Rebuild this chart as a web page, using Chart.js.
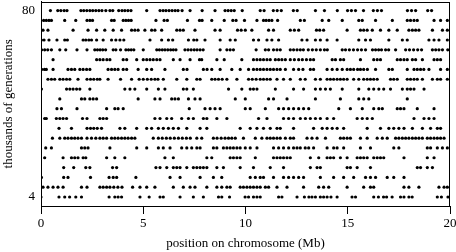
<!DOCTYPE html>
<html>
<head>
<meta charset="utf-8">
<script src="https://cdn.jsdelivr.net/npm/chart.js@4"></script>
<style>
  body { margin: 0; background: #fff; }
  #chrom { display: block; }
</style>
</head>
<body>
<canvas id="chrom" width="456" height="252"></canvas>
<script>
/* positions (Mb) of the dots in each generation row */
const generations = [80, 76, 72, 68, 64, 60, 56, 52, 48, 44, 40, 36, 32, 28, 24, 20, 16, 12, 8, 4];

const pos80 = [0.46, 0.82, 0.97, 1.13, 1.27, 1.95, 2.09, 2.24, 2.39, 2.53, 2.68, 2.83, 2.98, 3.17, 3.37, 3.51, 3.80, 3.96, 4.10, 4.25, 4.40, 5.17, 5.82, 5.97, 6.11, 6.26, 6.41, 6.56, 6.70, 6.90, 7.29, 7.88, 8.51, 9.00, 9.15, 9.30, 9.45, 9.84, 10.72, 10.91, 11.36, 11.55, 11.75, 12.34, 12.53, 13.42, 13.86, 14.49, 14.99, 15.18, 15.38, 15.77, 16.25, 16.45, 16.65, 17.92, 18.12, 18.32, 18.91, 19.10];
const pos76 = [0.13, 0.26, 0.39, 0.51, 1.16, 1.70, 2.25, 2.39, 2.52, 3.45, 3.58, 4.02, 4.15, 4.28, 4.41, 5.62, 6.02, 6.18, 7.16, 7.75, 7.88, 8.35, 8.96, 9.38, 9.54, 9.95, 10.56, 10.88, 11.01, 11.15, 11.29, 11.57, 12.68, 12.88, 13.75, 14.07, 14.73, 15.54, 15.71, 16.36, 17.18, 17.91, 18.07, 18.24, 18.40, 19.22, 19.54, 19.87];
const pos72 = [0.10, 0.34, 1.57, 2.30, 2.72, 3.12, 3.53, 3.94, 4.43, 4.59, 4.75, 5.08, 5.41, 5.57, 5.90, 6.64, 6.80, 6.96, 7.53, 8.51, 8.76, 9.61, 9.79, 9.99, 10.31, 11.13, 11.37, 12.19, 12.39, 12.60, 13.47, 13.63, 13.82, 14.97, 15.62, 15.78, 15.95, 16.20, 16.60, 17.01, 17.42, 17.99, 18.16, 18.32, 18.48, 19.14, 19.63, 19.87];
const pos68 = [0.02, 0.15, 0.39, 0.78, 1.16, 1.29, 2.06, 2.19, 2.34, 2.47, 2.72, 3.04, 3.45, 3.66, 3.86, 4.05, 5.33, 5.90, 6.23, 6.44, 7.21, 7.47, 7.62, 8.02, 8.76, 9.25, 9.50, 10.39, 10.64, 11.05, 11.29, 11.62, 12.76, 13.01, 13.42, 13.66, 13.99, 14.48, 15.54, 15.87, 16.11, 17.01, 17.67, 17.91, 18.97, 19.22, 19.46, 19.87];
const pos64 = [0.03, 0.18, 0.33, 0.51, 0.92, 1.21, 1.76, 2.25, 2.63, 2.76, 2.89, 3.02, 3.16, 3.53, 3.66, 3.89, 4.15, 4.28, 4.41, 4.54, 5.00, 5.66, 5.79, 5.93, 6.06, 6.20, 6.34, 6.47, 6.60, 7.04, 7.19, 7.34, 7.49, 7.63, 7.78, 7.93, 8.76, 9.09, 9.25, 9.41, 10.52, 10.97, 11.13, 11.37, 11.54, 11.70, 12.19, 12.35, 12.52, 12.68, 12.83, 13.07, 13.27, 13.46, 13.66, 13.86, 14.00, 14.73, 14.89, 15.08, 15.28, 15.48, 15.67, 15.87, 16.21, 16.36, 16.51, 16.65, 16.85, 17.00, 17.34, 17.83, 18.02, 18.22, 18.42, 18.61, 19.14, 19.30, 19.46, 19.63, 19.89];
const pos60 = [0.59, 2.72, 2.88, 3.04, 3.22, 3.37, 4.02, 4.19, 4.68, 5.00, 5.17, 5.33, 5.49, 5.66, 5.82, 6.47, 6.80, 7.29, 7.75, 7.86, 8.60, 8.96, 9.82, 10.39, 10.56, 10.72, 10.88, 11.05, 11.21, 11.46, 11.62, 11.78, 11.95, 12.19, 12.39, 12.60, 12.78, 12.98, 13.17, 13.33, 14.24, 14.40, 14.64, 14.80, 15.62, 16.27, 16.44, 16.60, 17.42, 17.58, 17.75, 17.91, 18.16, 18.32, 18.65, 19.22, 19.38, 19.54];
const pos56 = [0.03, 0.17, 0.26, 0.59, 1.32, 1.49, 1.65, 1.90, 2.06, 2.23, 2.39, 3.28, 3.45, 3.61, 3.77, 4.02, 4.19, 4.75, 5.17, 5.41, 6.06, 6.96, 7.14, 7.94, 8.12, 8.35, 8.76, 9.33, 9.74, 10.15, 10.39, 10.56, 10.72, 10.88, 11.05, 11.21, 11.37, 11.54, 11.70, 11.95, 12.35, 12.60, 12.81, 13.17, 13.33, 13.99, 14.24, 14.48, 14.73, 14.97, 15.13, 15.29, 15.48, 15.62, 15.78, 15.96, 16.36, 17.01, 17.18, 17.91, 18.24, 18.40, 18.56, 18.72, 18.97, 19.54, 19.87];
const pos52 = [0.34, 0.51, 0.67, 0.92, 1.08, 1.25, 1.41, 1.81, 2.25, 2.42, 2.58, 2.75, 2.88, 3.28, 3.89, 4.43, 4.80, 5.00, 5.20, 5.39, 5.57, 5.72, 5.98, 6.64, 7.13, 7.62, 7.78, 8.35, 8.51, 8.68, 8.86, 9.09, 9.58, 10.15, 10.33, 10.52, 10.72, 10.88, 11.05, 11.21, 11.54, 11.86, 12.19, 12.68, 12.92, 13.42, 13.66, 13.99, 14.15, 14.31, 14.48, 14.64, 14.80, 14.97, 15.29, 15.54, 15.78, 15.95, 16.11, 16.27, 16.44, 17.09, 17.25, 17.42, 17.91, 18.07, 18.24, 18.40, 18.65, 19.14, 19.38, 19.54, 19.87];
const pos48 = [0.02, 1.25, 1.41, 1.57, 1.74, 1.90, 2.39, 4.10, 4.35, 4.59, 5.17, 5.74, 6.06, 6.96, 7.13, 7.45, 9.17, 9.82, 10.23, 10.39, 10.56, 11.46, 12.35, 12.84, 13.42, 13.66, 13.91, 14.15, 14.73, 15.54, 16.03, 16.27, 16.52, 16.76, 17.09, 17.67, 17.91, 18.07, 18.24, 18.73];
const pos44 = [0.92, 1.98, 2.14, 2.39, 2.55, 2.72, 4.75, 5.57, 5.82, 6.39, 6.55, 6.72, 7.21, 7.53, 7.78, 9.50, 9.99, 11.13, 11.37, 12.03, 13.42, 14.64, 15.54, 15.78, 16.03, 17.91];
const pos40 = [0.78, 1.00, 1.76, 3.21, 3.61, 3.77, 4.02, 7.25, 8.02, 8.27, 8.51, 8.76, 9.99, 10.23, 10.97, 11.62, 11.86, 12.11, 12.35, 12.60, 12.84, 13.09, 14.56, 15.13, 15.71, 16.27, 16.52, 16.69, 17.42, 17.58, 17.75, 18.40, 19.22];
const pos36 = [0.18, 0.26, 0.75, 0.92, 1.08, 1.25, 2.03, 2.25, 2.88, 3.04, 3.21, 5.57, 5.82, 6.15, 6.39, 6.88, 7.21, 7.45, 7.94, 8.11, 8.60, 9.09, 10.64, 11.05, 11.86, 12.11, 12.35, 12.68, 12.93, 13.17, 13.42, 13.66, 13.99, 14.31, 15.46, 15.71, 15.95, 16.20, 18.24, 18.73, 18.97, 19.22];
const pos32 = [0.88, 1.49, 2.25, 2.42, 2.58, 2.75, 2.96, 3.86, 4.10, 4.68, 5.17, 5.41, 5.74, 5.98, 6.23, 6.47, 6.72, 7.13, 7.78, 8.11, 9.74, 10.23, 10.56, 10.88, 11.21, 11.54, 11.70, 12.35, 13.33, 13.75, 13.99, 14.24, 14.48, 14.80, 15.95, 16.60, 17.01, 17.25, 17.50, 17.75, 18.16, 18.65, 19.05, 19.38, 19.54];
const pos28 = [0.56, 0.92, 1.16, 1.32, 1.49, 1.65, 1.81, 1.98, 2.25, 2.47, 2.68, 2.88, 3.04, 3.21, 3.45, 3.61, 3.77, 3.94, 4.10, 4.26, 4.43, 4.59, 5.49, 5.74, 5.93, 6.13, 6.32, 6.52, 6.72, 6.91, 7.11, 7.30, 7.62, 7.86, 8.43, 8.61, 8.81, 9.00, 9.17, 9.33, 9.50, 9.90, 10.48, 10.80, 11.05, 11.21, 11.37, 11.54, 11.70, 11.95, 12.19, 12.35, 13.01, 13.25, 13.50, 13.91, 14.64, 14.80, 14.97, 15.13, 15.62, 15.95, 16.44, 16.69, 16.93, 17.34, 17.50, 17.67, 17.83, 17.99, 18.16, 18.32, 18.48, 18.65, 18.89, 19.05, 19.22, 19.38, 19.54, 19.71];
const pos24 = [0.23, 0.51, 1.98, 2.14, 2.30, 3.37, 4.68, 5.17, 5.74, 5.98, 6.31, 6.88, 7.13, 7.37, 7.62, 7.78, 8.43, 8.60, 8.92, 9.09, 9.25, 9.41, 9.58, 9.74, 9.99, 10.23, 10.56, 11.37, 11.62, 11.86, 12.11, 12.35, 12.52, 12.68, 12.92, 13.09, 13.33, 13.99, 14.31, 14.48, 14.80, 15.62, 16.11, 17.25, 17.50, 18.89, 19.05, 19.38, 19.63, 19.87];
const pos20 = [0.18, 1.08, 1.49, 1.65, 1.81, 2.06, 2.19, 3.21, 3.61, 4.10, 6.06, 6.47, 8.11, 8.35, 9.25, 9.41, 9.58, 9.74, 10.48, 11.37, 11.54, 11.70, 11.86, 12.03, 12.19, 13.17, 13.58, 13.99, 14.15, 14.31, 14.64, 14.97, 15.46, 15.62, 15.78, 15.95, 16.27, 16.44, 16.60, 16.76, 17.75, 18.89, 19.22];
const pos16 = [1.11, 1.60, 2.19, 2.39, 3.50, 3.70, 5.62, 5.82, 6.15, 6.47, 6.64, 6.80, 7.13, 7.45, 7.62, 7.78, 7.94, 8.11, 8.60, 8.92, 9.74, 10.39, 11.21, 11.86, 13.17, 13.50, 13.66, 14.97, 15.13, 15.46, 16.11, 18.40, 18.56, 18.89, 19.14];
const pos12 = [0.02, 1.11, 1.32, 2.42, 3.33, 3.53, 3.70, 4.64, 6.31, 6.80, 7.78, 8.43, 8.84, 10.23, 10.48, 10.72, 10.88, 11.37, 11.86, 12.11, 12.35, 12.60, 12.84, 13.66, 14.31, 14.80, 15.29, 15.87, 16.11, 16.36, 16.93, 17.25, 17.75];
const pos8 = [0.10, 0.34, 0.59, 0.83, 1.08, 1.98, 2.25, 2.88, 3.04, 3.21, 3.37, 3.56, 3.76, 3.96, 4.48, 4.84, 5.17, 5.57, 6.47, 6.96, 7.29, 7.53, 8.11, 8.60, 8.84, 9.09, 9.25, 9.74, 9.90, 10.07, 10.23, 10.39, 10.56, 10.72, 10.97, 11.13, 11.54, 12.03, 12.84, 13.58, 13.82, 14.07, 14.97, 15.78, 16.11, 16.27, 17.75, 17.99, 18.48, 19.46, 19.71, 19.87];
const pos4 = [0.00, 0.88, 1.16, 1.40, 1.70, 1.98, 3.33, 3.61, 3.77, 3.94, 4.84, 5.29, 5.82, 5.98, 6.80, 7.45, 7.94, 8.68, 8.84, 9.22, 9.98, 10.15, 10.39, 10.56, 10.72, 11.62, 11.78, 12.52, 12.88, 13.10, 13.25, 13.42, 13.66, 13.82, 13.99, 14.18, 14.48, 15.21, 15.38, 16.27, 16.50, 16.75, 16.90, 17.17, 17.58, 17.75, 17.99, 18.15, 19.38, 19.58, 19.90];

const rows = [pos80, pos76, pos72, pos68, pos64, pos60, pos56, pos52, pos48, pos44,
              pos40, pos36, pos32, pos28, pos24, pos20, pos16, pos12, pos8, pos4];
const yLabels = [4, 80];

const points = [];
rows.forEach((row, i) => {
    row.forEach(x => points.push({ x: x, y: generations[i] }));
});

const serif = "'Liberation Serif', 'DejaVu Serif', serif";

/* box round the plot area */
const frame = {
    id: 'frame',
    afterDraw(chart) {
        const a = chart.chartArea;
        const ctx = chart.ctx;
        ctx.save();
        ctx.strokeStyle = '#000';
        ctx.lineWidth = 1;
        ctx.strokeRect(Math.round(a.left) + 0.5, Math.round(a.top) + 0.5,
                       Math.round(a.right - a.left) - 1, Math.round(a.bottom - a.top));
        ctx.restore();
    }
};

const chrom = new Chart(document.getElementById('chrom'), {
    type: 'scatter',
    data: {
        datasets: [{
            data: points,
            backgroundColor: '#000',
            borderWidth: 0,
            pointRadius: 1.6,
            pointHoverRadius: 1.6
        }]
    },
    options: {
        responsive: false,
        animation: false,
        events: [],
        layout: { padding: { top: 1, right: 6, left: 0, bottom: 0 } },
        plugins: {
            legend: { display: false },
            tooltip: { enabled: false }
        },
        scales: {
            x: {
                type: 'linear',
                min: 0,
                max: 20,
                afterFit(scale) {
                    scale.height = 46;
                    scale.paddingLeft = 0;
                    scale.paddingRight = 0;
                },
                ticks: {
                    stepSize: 5,
                    padding: 2,
                    color: '#000',
                    font: { family: serif, size: 13 }
                },
                grid: {
                    drawOnChartArea: false,
                    drawTicks: true,
                    tickLength: 8,
                    color: '#000'
                },
                border: { display: true, color: '#000' },
                title: {
                    display: true,
                    text: 'position on chromosome (Mb)',
                    color: '#000',
                    padding: { top: 0, bottom: 1 },
                    font: { family: serif, size: 13 }
                }
            },
            y: {
                type: 'linear',
                min: 0.34,
                max: 83.66,
                afterFit(scale) {
                    scale.width = 41;
                    scale.paddingTop = 0;
                    scale.paddingBottom = 0;
                },
                afterBuildTicks(scale) {
                    scale.ticks = yLabels.map(v => ({ value: v }));
                },
                ticks: {
                    padding: 6,
                    color: '#000',
                    font: { family: serif, size: 13 }
                },
                grid: { display: false, drawTicks: false },
                border: { display: true, color: '#000' },
                title: {
                    display: true,
                    text: 'thousands of generations',
                    color: '#000',
                    padding: { top: 1, bottom: 0 },
                    font: { family: serif, size: 13 }
                }
            }
        }
    },
    plugins: [frame]
});
</script>
</body>
</html>
